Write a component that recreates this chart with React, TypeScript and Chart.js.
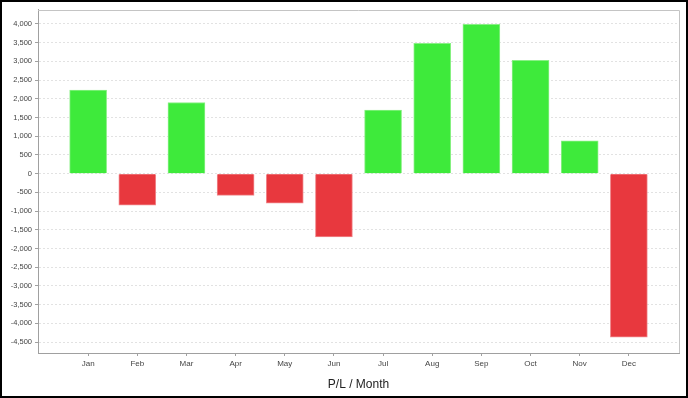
import React, { useEffect, useRef } from 'react';
import { Chart, registerables } from 'chart.js';

Chart.register(...registerables);

const months = ['Jan', 'Feb', 'Mar', 'Apr', 'May', 'Jun', 'Jul', 'Aug', 'Sep', 'Oct', 'Nov', 'Dec'];
const values = [2230, -840, 1900, -580, -790, -1690, 1700, 3480, 3990, 3030, 880, -4370];
const yTickValues = [-4500, -4000, -3500, -3000, -2500, -2000, -1500, -1000, -500, 0, 500, 1000, 1500, 2000, 2500, 3000, 3500, 4000];
const xTitle = 'P/L / Month';

const GREEN = '#3eea3b';
const GREEN_EDGE = '#8af086';
const RED = '#e8383e';
const RED_EDGE = '#f08a8e';
const FONT = "'Liberation Sans', Arial, sans-serif";

const outlinePlugin = {
  id: 'plotOutline',
  beforeDatasetsDraw(chart: any) {
    const { ctx, chartArea } = chart;
    ctx.save();
    ctx.strokeStyle = '#c4c4c4';
    ctx.lineWidth = 1;
    ctx.beginPath();
    ctx.moveTo(chartArea.left, Math.round(chartArea.top) + 0.5);
    ctx.lineTo(Math.round(chartArea.right) + 0.5, Math.round(chartArea.top) + 0.5);
    ctx.lineTo(Math.round(chartArea.right) + 0.5, chartArea.bottom);
    ctx.stroke();
    ctx.restore();
  },
};

export default function App() {
  const ref = useRef<HTMLCanvasElement>(null);

  useEffect(() => {
    document.body.style.margin = '0';
    const data = values.map((v, i) => ({ x: i, y: v }));
    const chart = new Chart(ref.current as HTMLCanvasElement, {
      type: 'bar',
      data: {
        datasets: [
          {
            data: data as any,
            backgroundColor: values.map((v) => (v >= 0 ? GREEN : RED)),
            borderColor: values.map((v) => (v >= 0 ? GREEN_EDGE : RED_EDGE)),
            borderWidth: 1,
            barThickness: 37,
          },
        ],
      },
      options: {
        animation: false,
        responsive: false,
        devicePixelRatio: 1,
        layout: { padding: { top: 5, right: 7, left: 0, bottom: 0 } },
        plugins: {
          legend: { display: false },
          tooltip: { enabled: false },
        },
        scales: {
          x: {
            type: 'linear',
            offset: false,
            min: -1.02,
            max: 12.02,
            afterBuildTicks: (scale: any) => {
              scale.ticks = months.map((_, i) => ({ value: i }));
            },
            afterFit: (scale: any) => {
              scale.height = 43;
            },
            grid: {
              display: true,
              offset: false,
              drawOnChartArea: false,
              drawTicks: true,
              tickLength: 3,
              tickColor: '#a0a0a0',
            },
            border: { display: true, color: '#a0a0a0', width: 1 },
            ticks: {
              autoSkip: false,
              maxRotation: 0,
              padding: 3,
              color: '#444',
              font: { family: FONT, size: 8 },
              callback: (v: any) => months[Math.round(Number(v))] ?? '',
            },
            title: {
              display: true,
              text: xTitle,
              color: '#222',
              font: { family: FONT, size: 12 },
              padding: { top: 0, bottom: 4 },
            },
          },
          y: {
            type: 'linear',
            min: -4790,
            max: 4385,
            afterBuildTicks: (scale: any) => {
              scale.ticks = yTickValues.map((v) => ({ value: v }));
            },
            afterFit: (scale: any) => {
              scale.width = 36;
            },
            grid: {
              display: true,
              color: '#e2e2e2',
              lineWidth: 1,
              drawTicks: true,
              tickLength: 3,
              tickColor: '#a0a0a0',
            },
            border: { display: true, color: '#a0a0a0', width: 1, dash: [2, 2] },
            ticks: {
              autoSkip: false,
              padding: 3,
              color: '#444',
              font: { family: FONT, size: 7.5 },
              callback: (v: any) => Number(v).toLocaleString('en-US'),
            },
          },
        },
      },
      plugins: [outlinePlugin],
    });
    return () => chart.destroy();
  }, []);

  return (
    <div
      style={{
        width: 688,
        height: 398,
        boxSizing: 'border-box',
        border: '2px solid #000',
        background: '#fff',
      }}
    >
      <canvas ref={ref} width={684} height={394} style={{ display: 'block', width: 684, height: 394 }} />
    </div>
  );
}
